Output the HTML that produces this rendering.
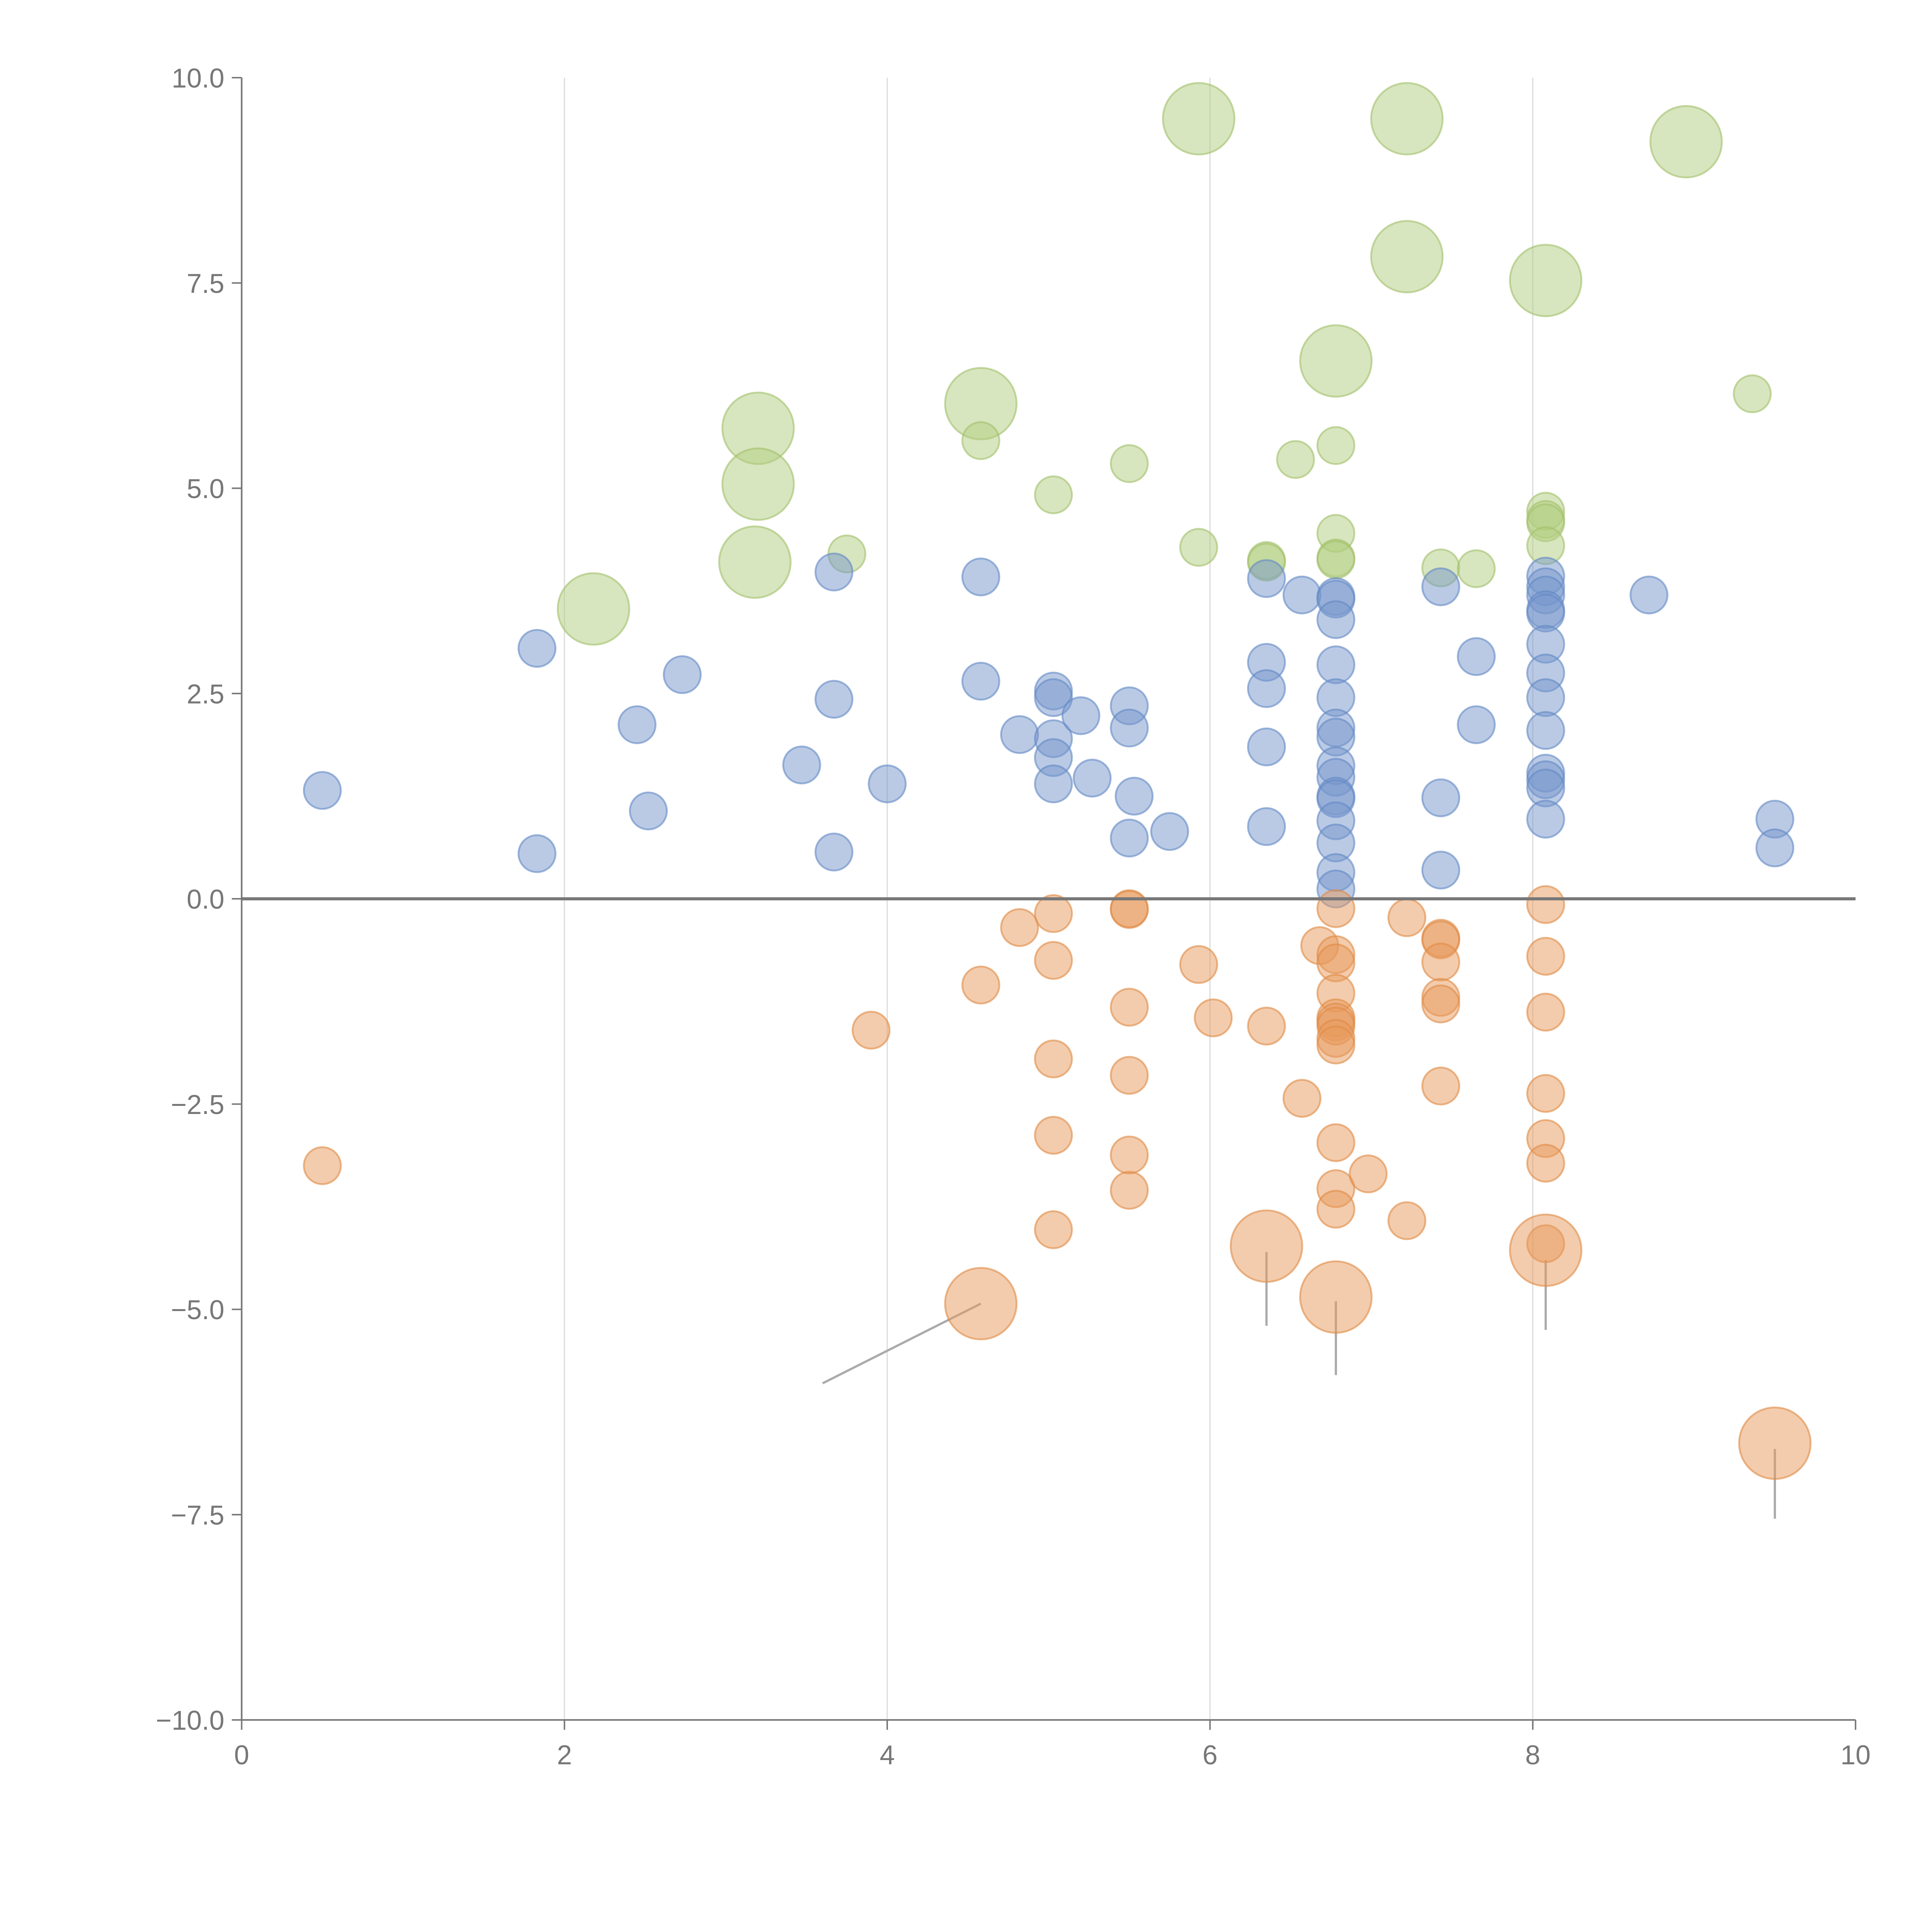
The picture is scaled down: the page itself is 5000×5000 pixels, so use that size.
<!DOCTYPE html>
<html><head><meta charset="utf-8"><style>
html,body{margin:0;padding:0;background:#fff;}
svg{display:block;}
text{font-family:"Liberation Sans",Arial,sans-serif;fill:#777;}
</style></head><body>
<svg id="chart" width="5000" height="5000" viewBox="0 0 1567 1567" xmlns="http://www.w3.org/2000/svg">
<g id="grid"></g>
<g id="axes"></g>
<g id="marks"></g>
</svg>
<script>
const xTicks=[0,2,4,6,8,10];
const yTicks=[10,7.5,5,2.5,0,-2.5,-5,-7.5,-10];
const yTickLabels=["10.0","7.5","5.0","2.5","0.0","\u22122.5","\u22125.0","\u22127.5","\u221210.0"];
// [x, y, big(1)/small(0)]
const greenPts=[[2.18,3.53,1],[3.2,5.73,1],[3.2,5.05,1],[3.18,4.1,1],[4.58,6.03,1],[5.93,9.5,1],[7.22,9.5,1],[7.22,7.82,1],[8.08,7.53,1],[6.78,6.55,1],[8.95,9.22,1],
[3.75,4.2,0],[4.58,5.58,0],[5.03,4.92,0],[5.5,5.3,0],[5.93,4.28,0],[6.35,4.12,0],[6.35,4.1,0],[6.53,5.35,0],[6.78,5.52,0],[6.78,4.45,0],[6.78,4.15,0],[6.78,4.13,0],[7.43,4.03,0],[7.65,4.02,0],[8.08,4.72,0],[8.08,4.62,0],[8.08,4.58,0],[8.08,4.3,0],[9.36,6.15,0]];
const bluePts=[[0.5,1.32,0],[1.83,3.05,0],[1.83,0.55,0],[2.45,2.12,0],[2.52,1.07,0],[2.73,2.73,0],[3.47,1.63,0],[3.67,2.43,0],[3.67,0.57,0],[3.67,3.98,0],[4.0,1.4,0],[4.58,3.92,0],[4.58,2.65,0],[4.82,2.0,0],[5.03,2.53,0],[5.03,2.45,0],[5.03,1.95,0],[5.03,1.72,0],[5.03,1.4,0],[5.2,2.23,0],[5.27,1.47,0],[5.5,2.35,0],[5.5,2.08,0],[5.53,1.25,0],[5.5,0.74,0],[5.75,0.82,0],[6.35,3.9,0],[6.35,2.88,0],[6.35,2.56,0],[6.35,1.85,0],[6.35,0.88,0],[6.57,3.7,0],[6.78,3.68,0],[6.78,3.65,0],[6.78,3.4,0],[6.78,2.85,0],[6.78,2.45,0],[6.78,2.08,0],[6.78,1.97,0],[6.78,1.62,0],[6.78,1.48,0],[6.78,1.25,0],[6.78,1.22,0],[6.78,0.95,0],[6.78,0.68,0],[6.78,0.32,0],[6.78,0.12,0],[7.43,3.8,0],[7.43,1.23,0],[7.43,0.35,0],[7.65,2.95,0],[7.65,2.12,0],[8.08,3.93,0],[8.08,3.8,0],[8.08,3.7,0],[8.08,3.52,0],[8.08,3.48,0],[8.08,3.1,0],[8.08,2.75,0],[8.08,2.45,0],[8.08,2.05,0],[8.08,1.53,0],[8.08,1.45,0],[8.08,1.35,0],[8.08,0.97,0],[8.72,3.7,0],[9.5,0.97,0],[9.5,0.62,0]];
const orangePts=[[0.5,-3.25,0],[3.9,-1.6,0],[4.58,-1.05,0],[4.82,-0.35,0],[5.03,-0.18,0],[5.03,-0.75,0],[5.03,-1.95,0],[5.03,-2.88,0],[5.03,-4.03,0],[5.5,-0.12,0],[5.5,-0.13,0],[5.5,-1.32,0],[5.5,-2.15,0],[5.5,-3.12,0],[5.5,-3.55,0],[5.93,-0.8,0],[6.02,-1.45,0],[6.35,-1.55,0],[6.57,-2.43,0],[6.68,-0.57,0],[6.78,-0.12,0],[6.78,-0.68,0],[6.78,-0.78,0],[6.78,-1.15,0],[6.78,-1.45,0],[6.78,-1.5,0],[6.78,-1.55,0],[6.78,-1.7,0],[6.78,-1.78,0],[6.78,-2.97,0],[6.78,-3.53,0],[6.78,-3.78,0],[6.98,-3.35,0],[7.22,-0.23,0],[7.22,-3.92,0],[7.43,-0.48,0],[7.43,-0.5,0],[7.43,-0.77,0],[7.43,-1.2,0],[7.43,-1.28,0],[7.43,-2.28,0],[8.08,-0.07,0],[8.08,-0.7,0],[8.08,-1.38,0],[8.08,-2.37,0],[8.08,-2.92,0],[8.08,-3.22,0],[8.08,-4.2,0],
[4.58,-4.93,1],[6.35,-4.23,1],[6.78,-4.85,1],[8.08,-4.28,1],[9.5,-6.63,1]];
// leader lines [x1,y1,x2,y2]
const leaders=[[4.58,-4.93,3.6,-5.9],[6.35,-4.3,6.35,-5.2],[6.78,-4.9,6.78,-5.8],[8.08,-4.4,8.08,-5.25],[9.5,-6.7,9.5,-7.55]];

const NS="http://www.w3.org/2000/svg";
const X0=196,X1=1505,Y0=1395,Y1=63;
function sx(v){return X0+(v-0)/10*(X1-X0);}
function sy(v){return Y0-(v+10)/20*(Y0-Y1);}
function mk(tag,attrs,parent){const e=document.createElementNS(NS,tag);for(const k in attrs)e.setAttribute(k,attrs[k]);parent.appendChild(e);return e;}
const grid=document.getElementById('grid'),axes=document.getElementById('axes'),marks=document.getElementById('marks');

xTicks.forEach(t=>{
  if(t>0&&t<10){const g=mk('line',{x1:sx(t),x2:sx(t),y1:Y1,y2:Y0,stroke:'#ddd','stroke-width':1},grid);
  
  }
  const tk=mk('line',{x1:sx(t),x2:sx(t),y1:Y0,y2:Y0+8,stroke:'#777','stroke-width':1.2},axes);
  
  
  const tx=mk('text',{x:sx(t),y:Y0+36,'text-anchor':'middle','font-size':22},axes);
  tx.textContent=t;
  
  
});
yTicks.forEach((t,i)=>{
  const tk=mk('line',{x1:X0-8,x2:X0,y1:sy(t),y2:sy(t),stroke:'#777','stroke-width':1.2},axes);
  
  
  const tx=mk('text',{x:X0-14,y:sy(t)+8,'text-anchor':'end','font-size':22},axes);
  tx.textContent=yTickLabels[i];
  
  
});
const ya=mk('line',{x1:X0,x2:X0,y1:Y1,y2:Y0,stroke:'#777','stroke-width':1.3},axes);


const xa=mk('line',{x1:X0,x2:X1,y1:Y0,y2:Y0,stroke:'#777','stroke-width':1.3},axes);



leaders.forEach(l=>{
  const e=mk('line',{x1:sx(l[0]),y1:sy(l[1]),x2:sx(l[2]),y2:sy(l[3]),stroke:'#aaa','stroke-width':1.8},marks);
  
  
});
function draw(pts,fill,stroke,name){
  pts.forEach(p=>{
    const c=mk('circle',{cx:sx(p[0]),cy:sy(p[1]),r:p[2]?29:15,fill:fill,'fill-opacity':0.5,stroke:stroke,'stroke-opacity':0.6,'stroke-width':1.5},marks);
    
    
  });
}
draw(greenPts,'#b2cd7f','#a2c06a','green-bubble');
draw(bluePts,'#7596cc','#6388c4','blue-bubble');
draw(orangePts,'#e79a5c','#e08a44','orange-bubble');
const z=mk('line',{x1:X0,x2:X1,y1:sy(0),y2:sy(0),stroke:'#777','stroke-width':2.5},marks);


</script>
</body></html>
